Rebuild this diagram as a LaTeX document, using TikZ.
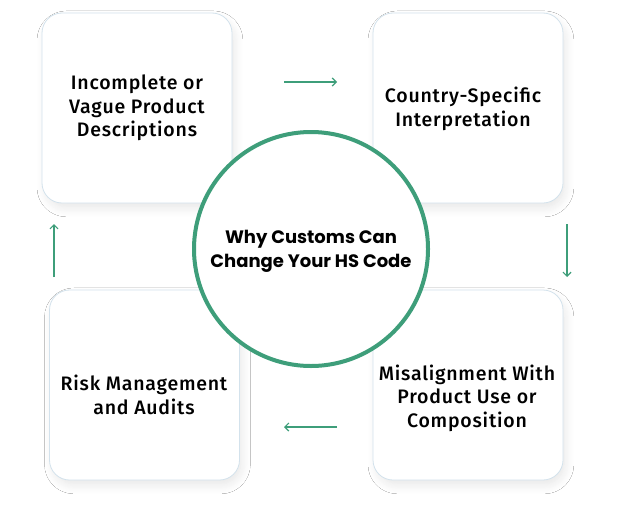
\documentclass[tikz,border=0pt]{standalone}
\usepackage{fontspec}
\setmainfont{Fira Sans}[UprightFont=* Medium, LetterSpace=4]
\newfontfamily\titlefont{Poppins}
\usetikzlibrary{shadows.blur,arrows.meta}
\definecolor{grn}{HTML}{3E9E7A}
\definecolor{edge}{HTML}{D3E2EC}
\tikzset{
  card/.style={draw=edge, line width=0.8pt, fill=white, rounded corners=20pt, minimum width=190pt, minimum height=190pt,
    blur shadow={shadow xshift=3pt, shadow yshift=-6pt, shadow blur steps=12, shadow blur radius=10pt, shadow opacity=11, shadow scale=0.98},
    },
  lbl/.style={align=center, font=\fontsize{19.5}{23.5}\selectfont, text=black},
  flow/.style={grn, line width=1.2pt, -{Straight Barb[length=4pt, width=8pt]}},
}
\begin{document}
\begin{tikzpicture}[x=1pt,y=-1pt]
\useasboundingbox (0,0) rectangle (620,516);
\fill[white] (0,0) rectangle (620,516);
\node[card] (b1) at (137,108) {};
\node[card] (b2) at (468,108) {};
\node[card] (b3) at (144.5,385) {};
\node[card] (b4) at (468,385) {};
\node[lbl] (t1) at (137,108) {Incomplete or\\Vague Product\\Descriptions};
\node[lbl] (t2) at (463,109) {Country-Specific\\Interpretation};
\node[lbl] (t3) at (144,395) {Risk Management\\and Audits};
\node[lbl] (t4) at (467,398) {Misalignment With\\Product Use or\\Composition};
\node[circle, draw=grn, line width=4pt, fill=white, minimum size=234pt, inner sep=0pt] (c) at (311,249) {};
\node[align=center, font=\titlefont\fontsize{18}{24}\selectfont\bfseries] (ct) at (311,251) {Why Customs Can\\Change Your HS Code};
\coordinate (a1s) at (284,82); \coordinate (a1e) at (337,82);
\coordinate (a2s) at (567,224); \coordinate (a2e) at (567,277);
\coordinate (a3s) at (337,427); \coordinate (a3e) at (284,427);
\coordinate (a4s) at (54,277); \coordinate (a4e) at (54,224);
\draw[flow] (a1s) -- (a1e);
\draw[flow] (a2s) -- (a2e);
\draw[flow] (a3s) -- (a3e);
\draw[flow] (a4s) -- (a4e);
\end{tikzpicture}
\end{document}
